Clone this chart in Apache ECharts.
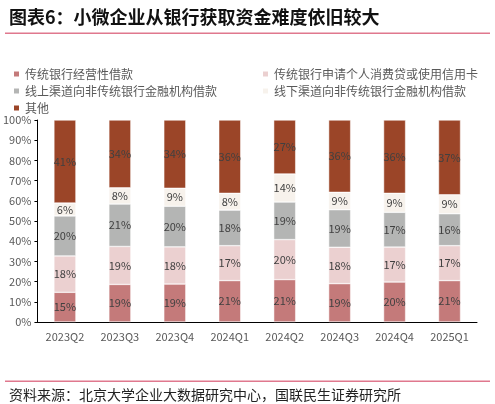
<!DOCTYPE html>
<html>
<head>
<meta charset="utf-8">
<script src="https://cdn.jsdelivr.net/npm/echarts@6/dist/echarts.min.js"></script>
<style>
  html, body { margin: 0; padding: 0; background: #fff; }
  #chart { width: 495px; height: 404px; }
</style>
</head>
<body>
<div id="chart"></div>
<script>
// quarters on the x axis
const quarters = ['2023Q2', '2023Q3', '2023Q4', '2024Q1', '2024Q2', '2024Q3', '2024Q4', '2025Q1'];

// shares in percent (labels show them rounded)
const bankBusiness = [14.7, 18.6, 18.8, 20.5, 21.0, 19.0, 19.8, 20.5];
const bankConsumer = [18.0, 18.8, 18.4, 17.3, 19.8, 18.0, 17.3, 17.3];
const onlineNonBank = [19.8, 21.0, 20.1, 17.6, 18.6, 18.6, 17.2, 15.8];
const offlineNonBank = [6.4, 8.0, 8.9, 8.3, 13.9, 8.6, 9.4, 9.4];
const others = [41.1, 33.6, 33.8, 36.3, 26.7, 35.8, 36.3, 37.0];

const seriesNames = [
  '传统银行经营性借款',
  '传统银行申请个人消费贷或使用信用卡',
  '线上渠道向非传统银行金融机构借款',
  '线下渠道向非传统银行金融机构借款',
  '其他'
];
const seriesData = [bankBusiness, bankConsumer, onlineNonBank, offlineNonBank, others];
const colors = ['#c47a7a', '#ebd0d0', '#b4b5b4', '#f7f2ec', '#9b4528'];

const font = '"Noto Sans CJK SC", "Noto Sans", sans-serif';

const chart = echarts.init(document.getElementById('chart'));

// one legend per item so the two columns line up
const legendPos = [
  { left: 12, top: 68 },
  { left: 261, top: 68 },
  { left: 12, top: 85 },
  { left: 261, top: 85 },
  { left: 12, top: 102 }
];
const legends = seriesNames.map((name, i) => ({
  data: [name],
  left: legendPos[i].left,
  top: legendPos[i].top,
  itemWidth: 7,
  itemHeight: 7,
  icon: 'rect',
  padding: 0,
  textStyle: { fontSize: 12, color: '#595959', fontFamily: font }
}));

chart.setOption({
  color: colors,
  animation: false,
  title: [
    {
      text: '图表6：小微企业从银行获取资金难度依旧较大',
      left: 4,
      top: 3,
      textStyle: { fontSize: 18, fontWeight: 'bold', color: '#111', fontFamily: font }
    },
    {
      text: '资料来源：北京大学企业大数据研究中心，国联民生证券研究所',
      left: 4,
      top: 383,
      textStyle: { fontSize: 14, fontWeight: 'normal', color: '#222', fontFamily: font }
    }
  ],
  graphic: [
    { type: 'rect', shape: { x: 5, y: 32.5, width: 485, height: 1.5 }, style: { fill: '#e0788e' } },
    { type: 'rect', shape: { x: 5, y: 380.5, width: 485, height: 1.5 }, style: { fill: '#e0788e' } }
  ],
  legend: legends,
  grid: { left: 32, right: 18, top: 120, bottom: 82 },
  xAxis: {
    type: 'category',
    data: quarters,
    axisLine: { lineStyle: { color: '#000', width: 1 } },
    axisTick: { show: false },
    axisLabel: { fontSize: 11, color: '#595959', fontFamily: font, margin: 9 }
  },
  yAxis: {
    type: 'value',
    min: 0,
    max: 100,
    interval: 10,
    axisLine: { show: true, lineStyle: { color: '#000', width: 1 } },
    axisTick: { show: true, length: 3, lineStyle: { color: '#000' } },
    splitLine: { show: false },
    axisLabel: { fontSize: 11, color: '#595959', fontFamily: font, margin: 6, formatter: '{value}%' }
  },
  series: seriesNames.map((name, i) => ({
    name: name,
    type: 'bar',
    stack: 'total',
    barWidth: 22,
    data: seriesData[i],
    itemStyle: { borderColor: '#fff', borderWidth: 0.5 },
    label: {
      show: true,
      position: 'inside',
      fontSize: 11,
      color: '#404040',
      fontFamily: font,
      formatter: p => Math.round(p.value) + '%'
    }
  }))
});
</script>
</body>
</html>
